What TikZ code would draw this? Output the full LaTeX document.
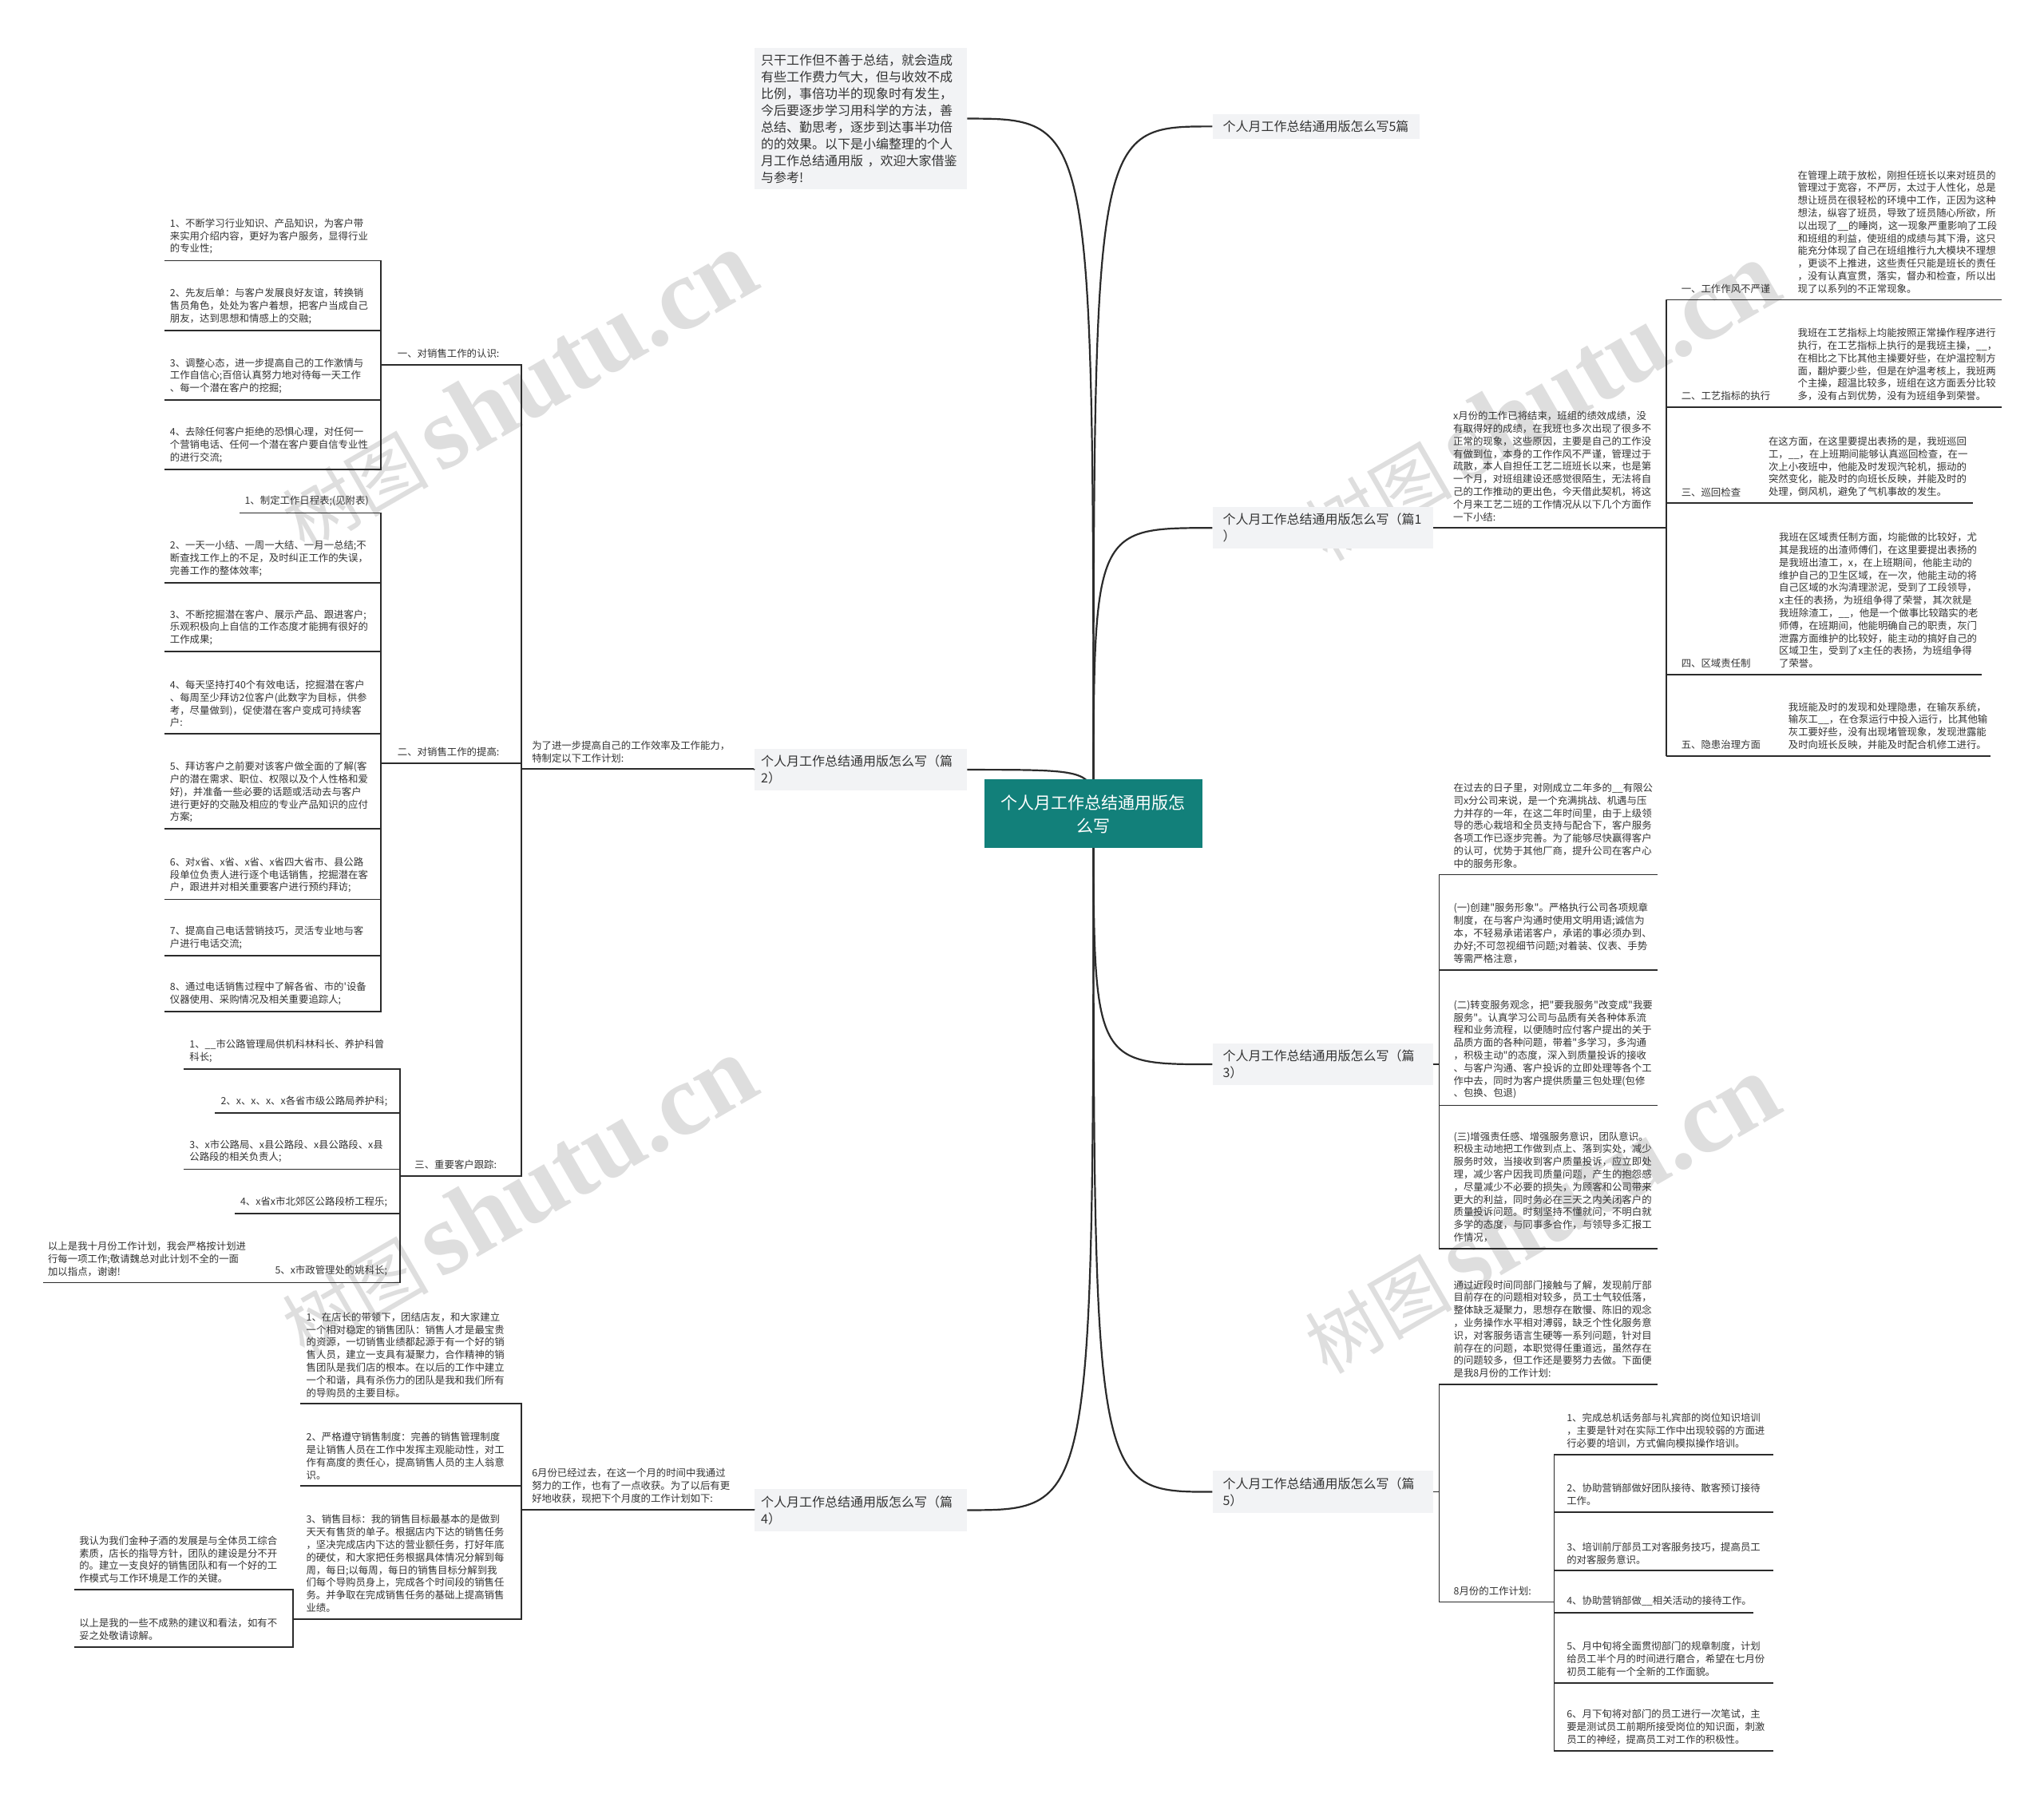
\documentclass[tikz,border=0pt]{standalone}
\usepackage{fontspec}
\newfontfamily\cjk{Noto Sans CJK SC}[Ligatures=TeXOff]
\newfontfamily\wmserif{Liberation Serif}
\usetikzlibrary{backgrounds}
\definecolor{rootc}{HTML}{12807A}
\definecolor{boxc}{HTML}{F2F3F5}
\definecolor{linec}{HTML}{2B2B2B}
\definecolor{txtc}{HTML}{333333}
\definecolor{wmc}{HTML}{DEDEDE}
\tikzset{
 leaf/.style={anchor=south west,inner ysep=8pt,align=left,text=txtc,font=\cjk\fontsize{12.4}{15.8}\selectfont},
 uline/.style={draw=linec,line width=1.8pt},
 conn/.style={draw=linec,line width=1.8pt},
 curve/.style={draw=linec,line width=2.2pt},
 lvl/.style={fill=boxc,text=txtc,align=left,inner xsep=8pt,inner ysep=8pt,text width=250pt,font=\cjk\fontsize{16}{21}\selectfont},
 lvlr/.style={lvl,anchor=west,inner xsep=13pt},
 rootbox/.style={fill=rootc,text=white,align=center,text width=231pt,inner xsep=21pt,inner ysep=12pt,minimum height=86pt,font=\cjk\fontsize{21}{29}\selectfont},
 wm/.style={text=wmc,inner sep=0pt},
}
\newcommand\leafnode[6]{%
 \pgfmathsetmacro\leafw{(#3-#2)*1.6327-2*#5}%
 \node[leaf,inner xsep=#5pt,text width=\leafw pt] (#1) at (#2,#4) {#6};%
 \draw[uline] (#1.south west) -- (#1.south east);%
}
\newcommand\wmtext{{\cjk\fontsize{92}{92}\selectfont 树图}\hspace{14pt}{\wmserif\bfseries\fontsize{128}{128}\selectfont shutu.cn}}
\begin{document}
\begin{tikzpicture}[x=1.6327pt,y=-1.6327pt]
\useasboundingbox (0,0) rectangle (1568,1376);

% ---------- root and first-level boxes ----------
\node[rootbox] (root) at (838.8,624.4) {个人月工作总结通用版怎\\么写};
\node[lvl,anchor=east] (I0) at (742,91) {只干工作但不善于总结，就会造成\\有些工作费力气大，但与收效不成\\比例，事倍功半的现象时有发生，\\今后要逐步学习用科学的方法，善\\总结、勤思考，逐步到达事半功倍\\的的效果。以下是小编整理的个人\\月工作总结通用版~，欢迎大家借鉴\\与参考!};
\node[lvl,anchor=east] (B2) at (742,590.5) {个人月工作总结通用版怎么写（篇\\2）};
\node[lvl,anchor=east] (B4) at (742,1158.5) {个人月工作总结通用版怎么写（篇\\4）};
\node[lvlr,text width=233pt] (B0) at (930,97) {个人月工作总结通用版怎么写5篇};
\node[lvlr] (B1) at (930,405) {个人月工作总结通用版怎么写（篇1\\）};
\node[lvlr] (B3) at (930,816.5) {个人月工作总结通用版怎么写（篇\\3）};
\node[lvlr] (B5) at (930,1144.5) {个人月工作总结通用版怎么写（篇\\5）};

% ---------- 篇1 ----------
\leafnode{P1i}{1108}{1278}{405}{11}{x月份的工作已将结束，班组的绩效成绩，没\\有取得好的成绩，在我班也多次出现了很多不\\正常的现象，这些原因，主要是自己的工作没\\有做到位，本身的工作作风不严谨，管理过于\\疏散，本人自担任工艺二班班长以来，也是第\\一个月，对班组建设还感觉很陌生，无法将自\\己的工作推动的更出色，今天借此契机，将这\\个月来工艺二班的工作情况从以下几个方面作\\一下小结:}
\leafnode{L1a}{1278}{1368}{230}{19}{一、工作作风不严谨}
\leafnode{P1a}{1368}{1535}{230}{18}{在管理上疏于放松，刚担任班长以来对班员的\\管理过于宽容，不严厉，太过于人性化，总是\\想让班员在很轻松的环境中工作，正因为这种\\想法，纵容了班员，导致了班员随心所欲，所\\以出现了\_\_的睡岗，这一现象严重影响了工段\\和班组的利益，使班组的成绩与其下滑，这只\\能充分体现了自己在班组推行九大模块不理想\\，更谈不上推进，这些责任只能是班长的责任\\，没有认真宣贯，落实，督办和检查，所以出\\现了以系列的不正常现象。}
\leafnode{L1b}{1278}{1368}{312.5}{19}{二、工艺指标的执行}
\leafnode{P1b}{1368}{1535}{312.5}{18}{我班在工艺指标上均能按照正常操作程序进行\\执行，在工艺指标上执行的是我班主操，\_\_，\\在相比之下比其他主操要好些，在炉温控制方\\面，翻炉要少些，但是在炉温考核上，我班两\\个主操，超温比较多，班组在这方面丢分比较\\多，没有占到优势，没有为班组争到荣誉。}
\leafnode{L1c}{1278}{1348}{386}{19}{三、巡回检查}
\leafnode{P1c}{1348}{1513}{386}{14}{在这方面，在这里要提出表扬的是，我班巡回\\工，\_\_，在上班期间能够认真巡回检查，在一\\次上小夜班中，他能及时发现汽轮机，振动的\\突然变化，能及时的向班长反映，并能及时的\\处理，倒风机，避免了气机事故的发生。}
\leafnode{L1d}{1278}{1356}{517.5}{19}{四、区域责任制}
\leafnode{P1d}{1356}{1520}{517.5}{14}{我班在区域责任制方面，均能做的比较好，尤\\其是我班的出渣师傅们，在这里要提出表扬的\\是我班出渣工，x，在上班期间，他能主动的\\维护自己的卫生区域，在一次，他能主动的将\\自己区域的水沟清理淤泥，受到了工段领导，\\x主任的表扬，为班组争得了荣誉，其次就是\\我班除渣工，\_\_，他是一个做事比较踏实的老\\师傅，在班期间，他能明确自己的职责，灰门\\泄露方面维护的比较好，能主动的搞好自己的\\区域卫生，受到了x主任的表扬，为班组争得\\了荣誉。}
\leafnode{L1e}{1278}{1362}{580}{19}{五、隐患治理方面}
\leafnode{P1e}{1362}{1527}{580}{16}{我班能及时的发现和处理隐患，在输灰系统，\\输灰工\_\_，在仓泵运行中投入运行，比其他输\\灰工要好些，没有出现堵管现象，发现泄露能\\及时向班长反映，并能及时配合机修工进行。}
\draw[conn] (B1.east) -- (P1i.south west);
\foreach \n in {L1a,L1b,L1c,L1d,L1e} \draw[conn] (P1i.south east) |- (\n.south west);

% ---------- 篇3 ----------
\leafnode{C3a}{1104}{1271}{671}{18}{在过去的日子里，对刚成立二年多的\_\_有限公\\司x分公司来说，是一个充满挑战、机遇与压\\力并存的一年，在这二年时间里，由于上级领\\导的悉心栽培和全员支持与配合下，客户服务\\各项工作已逐步完善。为了能够尽快赢得客户\\的认可，优势于其他厂商，提升公司在客户心\\中的服务形象。}
\leafnode{C3b}{1104}{1271}{744}{18}{(一)创建"服务形象"。严格执行公司各项规章\\制度，在与客户沟通时使用文明用语;诚信为\\本，不轻易承诺诺客户，承诺的事必须办到、\\办好;不可忽视细节问题;对着装、仪表、手势\\等需严格注意，}
\leafnode{C3c}{1104}{1271}{848}{18}{(二)转变服务观念，把"要我服务"改变成"我要\\服务"。认真学习公司与品质有关各种体系流\\程和业务流程，以便随时应付客户提出的关于\\品质方面的各种问题，带着"多学习，多沟通\\，积极主动"的态度，深入到质量投诉的接收\\、与客户沟通、客户投诉的立即处理等各个工\\作中去，同时为客户提供质量三包处理(包修\\、包换、包退)}
\leafnode{C3d}{1104}{1271}{958}{18}{(三)增强责任感、增强服务意识，团队意识。\\积极主动地把工作做到点上、落到实处，减少\\服务时效，当接收到客户质量投诉，应立即处\\理，减少客户因我司质量问题，产生的抱怨感\\，尽量减少不必要的损失，为顾客和公司带来\\更大的利益，同时务必在三天之内关闭客户的\\质量投诉问题。时刻坚持不懂就问，不明白就\\多学的态度，与同事多合作，与领导多汇报工\\作情况，}
\foreach \n in {C3a,C3b,C3c,C3d} \draw[conn] (B3.east) -- (B3.east -| C3a.south west) |- (\n.south west);

% ---------- 篇5 ----------
\leafnode{C5a}{1104}{1271}{1062}{18}{通过近段时间同部门接触与了解，发现前厅部\\目前存在的问题相对较多，员工士气较低落，\\整体缺乏凝聚力，思想存在散慢、陈旧的观念\\，业务操作水平相对溥弱，缺乏个性化服务意\\识，对客服务语言生硬等一系列问题，针对目\\前存在的问题，本职觉得任重道远，虽然存在\\的问题较多，但工作还是要努力去做。下面便\\是我8月份的工作计划:}
\leafnode{C5b}{1104}{1192}{1229}{18}{8月份的工作计划:}
\leafnode{D1}{1192}{1360}{1116}{16}{1、完成总机话务部与礼宾部的岗位知识培训\\，主要是针对在实际工作中出现较弱的方面进\\行必要的培训，方式偏向模拟操作培训。}
\leafnode{D2}{1192}{1360}{1160}{16}{2、协助营销部做好团队接待、散客预订接待\\工作。}
\leafnode{D3}{1192}{1360}{1205}{16}{3、培训前厅部员工对客服务技巧，提高员工\\的对客服务意识。}
\leafnode{D4}{1192}{1345}{1237}{16}{4、协助营销部做\_\_相关活动的接待工作。}
\leafnode{D5}{1192}{1360}{1291}{16}{5、月中旬将全面贯彻部门的规章制度，计划\\给员工半个月的时间进行磨合，希望在七月份\\初员工能有一个全新的工作面貌。}
\leafnode{D6}{1192}{1360}{1343}{16}{6、月下旬将对部门的员工进行一次笔试，主\\要是测试员工前期所接受岗位的知识面，刺激\\员工的神经，提高员工对工作的积极性。}
\foreach \n in {C5a,C5b} \draw[conn] (B5.east) -- (B5.east -| C5a.south west) |- (\n.south west);
\foreach \n in {D1,D2,D3,D4,D5,D6} \draw[conn] (C5b.south east) |- (\n.south west);

% ---------- 篇2 ----------
\leafnode{P2i}{400}{578}{590}{13}{为了进一步提高自己的工作效率及工作能力，\\特制定以下工作计划:}
\leafnode{K1}{292}{400}{280}{21}{一、对销售工作的认识:}
\leafnode{K2}{292}{400}{585.5}{21}{二、对销售工作的提高:}
\leafnode{K3}{307}{400}{902}{18}{三、重要客户跟踪:}
\leafnode{a1}{126}{292}{200}{7}{1、不断学习行业知识、产品知识，为客户带\\来实用介绍内容，更好为客户服务，显得行业\\的专业性;}
\leafnode{a2}{126}{292}{253.5}{7}{2、先友后单：与客户发展良好友谊，转换销\\售员角色，处处为客户着想，把客户当成自己\\朋友，达到思想和情感上的交融;}
\leafnode{a3}{126}{292}{307}{7}{3、调整心态，进一步提高自己的工作激情与\\工作自信心;百倍认真努力地对待每一天工作\\、每一个潜在客户的挖掘;}
\leafnode{a4}{126}{292}{360}{7}{4、去除任何客户拒绝的恐惧心理，对任何一\\个营销电话、任何一个潜在客户要自信专业性\\的进行交流;}
\leafnode{b1}{184}{292}{393.5}{6}{1、制定工作日程表;(见附表)}
\leafnode{b2}{126}{292}{447}{7}{2、一天一小结、一周一大结、一月一总结;不\\断查找工作上的不足，及时纠正工作的失误，\\完善工作的整体效率;}
\leafnode{b3}{126}{292}{500}{7}{3、不断挖掘潜在客户、展示产品、跟进客户;\\乐观积极向上自信的工作态度才能拥有很好的\\工作成果;}
\leafnode{b4}{126}{292}{563}{7}{4、每天坚持打40个有效电话，挖掘潜在客户\\、每周至少拜访2位客户(此数字为目标，供参\\考，尽量做到)，促使潜在客户变成可持续客\\户:}
\leafnode{b5}{126}{292}{636}{7}{5、拜访客户之前要对该客户做全面的了解(客\\户的潜在需求、职位、权限以及个人性格和爱\\好)，并准备一些必要的话题或活动去与客户\\进行更好的交融及相应的专业产品知识的应付\\方案;}
\leafnode{b6}{126}{292}{690}{7}{6、对x省、x省、x省、x省四大省市、县公路\\段单位负责人进行逐个电话销售，挖掘潜在客\\户，跟进并对相关重要客户进行预约拜访;}
\leafnode{b7}{126}{292}{733}{7}{7、提高自己电话营销技巧，灵活专业地与客\\户进行电话交流;}
\leafnode{b8}{126}{292}{776}{7}{8、通过电话销售过程中了解各省、市的'设备\\仪器使用、采购情况及相关重要追踪人;}
\leafnode{c1}{141}{307}{820}{7}{1、\_\_市公路管理局供机科林科长、养护科曾\\科长;}
\leafnode{c2}{165}{307}{854}{7}{2、x、x、x、x各省市级公路局养护科;}
\leafnode{c3}{141}{307}{897}{7}{3、x市公路局、x县公路段、x县公路段、x县\\公路段的相关负责人;}
\leafnode{c4}{180}{307}{931}{7}{4、x省x市北郊区公路段桥工程乐;}
\leafnode{c5}{206}{307}{984}{8}{5、x市政管理处的姚科长;}
\leafnode{c5a}{33}{206}{984}{6}{以上是我十月份工作计划，我会严格按计划进\\行每一项工作;敬请魏总对此计划不全的一面\\加以指点，谢谢!}
\draw[conn] (B2.west) -- (P2i.south east);
\foreach \n in {K1,K2,K3} \draw[conn] (P2i.south west) |- (\n.south east);
\foreach \n in {a1,a2,a3,a4} \draw[conn] (K1.south west) |- (\n.south east);
\foreach \n in {b1,b2,b3,b4,b5,b6,b7,b8} \draw[conn] (K2.south west) |- (\n.south east);
\foreach \n in {c1,c2,c3,c4,c5} \draw[conn] (K3.south west) |- (\n.south east);
\draw[conn] (c5.south west) -- (c5a.south east);

% ---------- 篇4 ----------
\leafnode{P4i}{400}{578}{1158}{13}{6月份已经过去，在这一个月的时间中我通过\\努力的工作，也有了一点收获。为了以后有更\\好地收获，现把下个月度的工作计划如下:}
\leafnode{d1}{230}{400}{1077}{8}{1、在店长的带领下，团结店友，和大家建立\\一个相对稳定的销售团队：销售人才是最宝贵\\的资源，一切销售业绩都起源于有一个好的销\\售人员，建立一支具有凝聚力，合作精神的销\\售团队是我们店的根本。在以后的工作中建立\\一个和谐，具有杀伤力的团队是我和我们所有\\的导购员的主要目标。}
\leafnode{d2}{230}{400}{1140}{8}{2、严格遵守销售制度：完善的销售管理制度\\是让销售人员在工作中发挥主观能动性，对工\\作有高度的责任心，提高销售人员的主人翁意\\识。}
\leafnode{d3}{225}{400}{1242}{16}{3、销售目标：我的销售目标最基本的是做到\\天天有售货的单子。根据店内下达的销售任务\\，坚决完成店内下达的营业额任务，打好年底\\的硬仗，和大家把任务根据具体情况分解到每\\周，每日;以每周，每日的销售目标分解到我\\们每个导购员身上，完成各个时间段的销售任\\务。并争取在完成销售任务的基础上提高销售\\业绩。}
\leafnode{e1}{57}{225}{1219.5}{6}{我认为我们金种子酒的发展是与全体员工综合\\素质，店长的指导方针，团队的建设是分不开\\的。建立一支良好的销售团队和有一个好的工\\作模式与工作环境是工作的关键。}
\leafnode{e2}{57}{225}{1263.5}{6}{以上是我的一些不成熟的建议和看法，如有不\\妥之处敬请谅解。}
\draw[conn] (B4.west) -- (P4i.south east);
\foreach \n in {d1,d2,d3} \draw[conn] (P4i.south west) |- (\n.south east);
\foreach \n in {e1,e2} \draw[conn] (d3.south west) |- (\n.south east);

% ---------- background: white, watermarks, curves ----------
\begin{scope}[on background layer]
\fill[white] (0,0) rectangle (1568,1376);
\node[wm,rotate=30] (wm1) at (397,300) {\wmtext};
\node[wm,rotate=30] (wm2) at (397,918) {\wmtext};
\node[wm,rotate=30] (wm3) at (1182,308) {\wmtext};
\node[wm,rotate=30] (wm4) at (1182,932) {\wmtext};
\foreach \t/\a in {I0/east,B2/east,B4/east,B0/west,B1/west,B3/west,B5/west}
  \draw[curve] (root.center) .. controls (root.center |- \t.\a) and (root.center |- \t.\a) .. (\t.\a);
\end{scope}
\end{tikzpicture}
\end{document}
